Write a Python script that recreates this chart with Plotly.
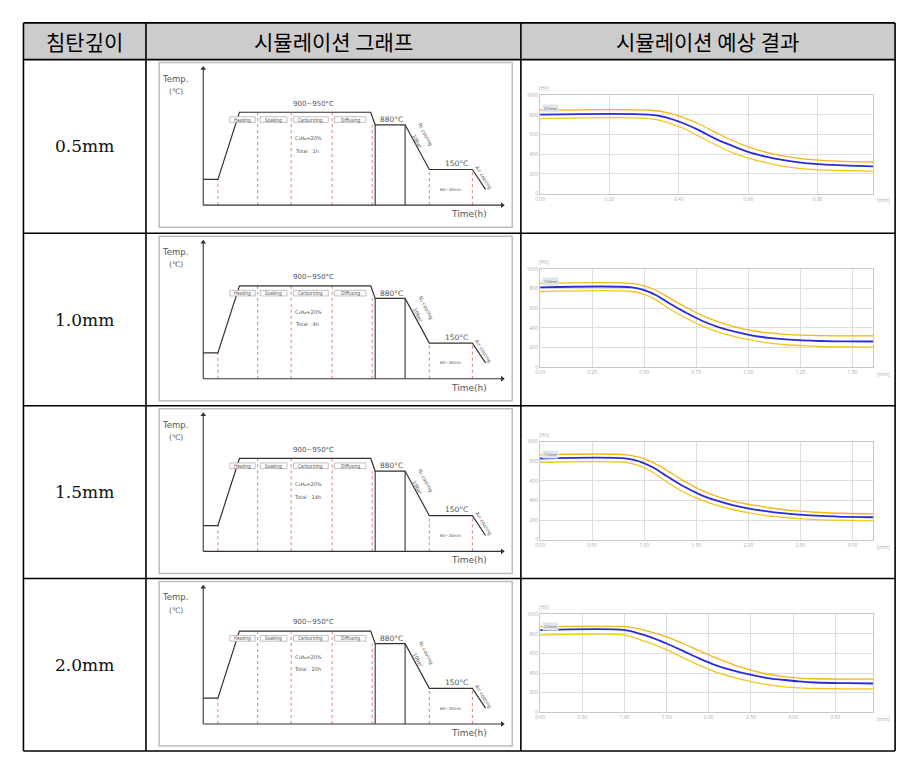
import plotly.graph_objects as go

W, H = 913, 759
PAGE_PAD = 8  # browser body margin around the plot div

headers = ['침탄깊이', '시뮬레이션 그래프', '시뮬레이션 예상 결과']
depths = ['0.5mm', '1.0mm', '1.5mm', '2.0mm']
total_times = ['1h', '4h', '14h', '20h']

# process schematic (not to scale: time 0-100, temperature 0-100)
prof_t = [0, 4.9, 12.1, 56.0, 57.5, 67.5, 75.6, 90.0, 94.4]
prof_T = [18.9, 18.9, 68.0, 68.0, 58.8, 58.8, 26.1, 26.1, 11.6]
step_t = [4.9, 18.2, 29.4, 43.1, 56.5, 75.6, 90.0]
step_T = [18.9, 68.0, 68.0, 68.0, 58.8, 26.1, 26.1]
stage_names = ['Heating', 'Soaking', 'Carburizing', 'Diffusing']
stage_t0 = [8.9, 19.1, 30.2, 43.9]
stage_t1 = [17.4, 28.0, 41.8, 54.4]

# simulation results: depth [mm] vs value
sim_xmax = [0.96, 1.6, 3.2, 3.95]
sim_dtick = [0.2, 0.25, 0.5, 0.5]
sim_x = [
    [0, 0.315, 0.363, 0.411, 0.459, 0.506, 0.554, 0.602, 0.650, 0.698, 0.746, 0.794, 0.842, 0.889, 0.96],
    [0, 0.44, 0.50, 0.56, 0.62, 0.70, 0.78, 0.86, 0.94, 1.02, 1.10, 1.18, 1.26, 1.34, 1.48, 1.6],
    [0, 0.833, 0.959, 1.087, 1.214, 1.373, 1.532, 1.691, 1.850, 2.008, 2.167, 2.326, 2.485, 2.644, 2.962, 3.2],
    [0, 1.008, 1.145, 1.302, 1.498, 1.695, 1.891, 2.087, 2.283, 2.479, 2.675, 2.871, 3.068, 3.264, 3.656, 3.95],
]
sim_mid = [
    [803, 803, 776, 718, 643, 557, 486, 421, 376, 342, 318, 301, 291, 284, 277],
    [812, 812, 785, 730, 650, 555, 470, 405, 358, 322, 298, 282, 272, 266, 262, 261],
    [827, 827, 796, 735, 650, 547, 462, 400, 352, 318, 291, 270, 256, 246, 232, 229],
    [838, 838, 810, 769, 701, 626, 547, 479, 427, 386, 352, 332, 315, 304, 297, 294],
]
sim_hi = [
    [848, 848, 827, 776, 708, 622, 540, 472, 421, 383, 359, 342, 332, 325, 321],
    [852, 852, 828, 780, 705, 610, 525, 458, 408, 372, 348, 333, 325, 321, 318, 318],
    [865, 865, 838, 786, 708, 605, 513, 444, 393, 359, 332, 308, 291, 280, 267, 263],
    [872, 872, 855, 821, 769, 701, 626, 554, 489, 434, 393, 366, 349, 342, 338, 338],
]
sim_lo = [
    [762, 762, 728, 667, 581, 496, 417, 359, 315, 280, 256, 243, 236, 232, 229],
    [770, 770, 740, 680, 595, 500, 418, 355, 308, 272, 245, 228, 218, 210, 205, 204],
    [786, 786, 752, 684, 591, 489, 410, 352, 308, 274, 246, 229, 215, 205, 198, 195],
    [786, 786, 752, 708, 639, 557, 479, 410, 359, 318, 284, 263, 250, 243, 239, 239],
]

# table geometry (pixels of the page)
col_x = [18.5, 141.7, 518.7, 895]
row_y = [20, 57, 232, 406, 580, 754]

FW, FH = W - PAGE_PAD, H - PAGE_PAD


def px(x):
    return (x - PAGE_PAD) / FW


def py(y):
    return 1 - (y - PAGE_PAD) / FH


fig = go.Figure()
shapes = []
annotations = []

# header background + grid lines
shapes.append(dict(type='rect', xref='paper', yref='paper', x0=px(col_x[0]), x1=px(col_x[-1]),
                   y0=py(row_y[0]), y1=py(row_y[1]), fillcolor='#cccccc', line=dict(width=0), layer='below'))
for yy in row_y:
    shapes.append(dict(type='line', xref='paper', yref='paper', x0=px(col_x[0]), x1=px(col_x[-1]),
                       y0=py(yy), y1=py(yy), line=dict(color='black', width=1.6)))
for xx in col_x:
    shapes.append(dict(type='line', xref='paper', yref='paper', x0=px(xx), x1=px(xx),
                       y0=py(row_y[0]), y1=py(row_y[-1]), line=dict(color='black', width=1.6)))

for j, h in enumerate(headers):
    annotations.append(dict(xref='paper', yref='paper', x=px((col_x[j] + col_x[j + 1]) / 2),
                            y=py((row_y[0] + row_y[1]) / 2), text=h, showarrow=False,
                            xanchor='center', yanchor='middle',
                            font=dict(family='Noto Sans CJK KR', size=21, color='black')))

layout_axes = {}
for i in range(4):
    top = row_y[i + 1]
    bot = row_y[i + 2]
    annotations.append(dict(xref='paper', yref='paper', x=px((col_x[0] + col_x[1]) / 2),
                            y=py((top + bot) / 2), text=depths[i], showarrow=False,
                            xanchor='center', yanchor='middle',
                            font=dict(family='DejaVu Serif', size=17, color='#111111')))

    # ---- schematic axis ----
    ka = 2 * i + 1
    xa, ya = f'x{ka}', f'y{ka}'
    ox, oy = 199.3, top + 146.7
    sx, sy = (500 - 199.3) / 100, 137.7 / 100
    bx0, bx1, by0, by1 = 155, 510, top + 3, top + 169
    layout_axes[f'xaxis{ka}'] = dict(domain=[px(bx0), px(bx1)], range=[(bx0 - ox) / sx, (bx1 - ox) / sx],
                                     visible=False, anchor=ya, fixedrange=True)
    layout_axes[f'yaxis{ka}'] = dict(domain=[py(by1), py(by0)], range=[(oy - by1) / sy, (oy - by0) / sy],
                                     visible=False, anchor=xa, fixedrange=True)
    shapes.append(dict(type='rect', xref='paper', yref='paper', x0=px(bx0), x1=px(bx1), y0=py(by1), y1=py(by0),
                       line=dict(color='#bdbdbd', width=1.5), fillcolor='white', layer='below'))

    # red dashed stage boundaries
    dx, dy = [], []
    for t, T in zip(step_t, step_T):
        dx += [t, t, None]
        dy += [0, T, None]
    fig.add_trace(go.Scatter(x=dx, y=dy, xaxis=xa, yaxis=ya, mode='lines',
                             line=dict(color='#e87878', width=1, dash='dot'), hoverinfo='skip'))
    # vertical edges of the 880 hold
    fig.add_trace(go.Scatter(x=[prof_t[4], prof_t[4], None, prof_t[5], prof_t[5]],
                             y=[0, prof_T[4], None, 0, prof_T[5]], xaxis=xa, yaxis=ya, mode='lines',
                             line=dict(color='#333333', width=1.1), hoverinfo='skip'))
    fig.add_trace(go.Scatter(x=prof_t, y=prof_T, xaxis=xa, yaxis=ya, mode='lines',
                             line=dict(color='#333333', width=1.2), hoverinfo='skip'))

    # axes with arrow heads
    fig.add_trace(go.Scatter(x=[0, 0, None, 0, 100], y=[100, 0, None, 0, 0], xaxis=xa, yaxis=ya,
                             mode='lines', line=dict(color='#333333', width=1.1), hoverinfo='skip'))
    fig.add_trace(go.Scatter(x=[0, 100], y=[100, 0], xaxis=xa, yaxis=ya, mode='markers',
                             marker=dict(symbol=['triangle-up', 'triangle-right'], size=5, color='#333333'),
                             hoverinfo='skip'))

    # stage boxes
    for name, t0, t1 in zip(stage_names, stage_t0, stage_t1):
        shapes.append(dict(type='rect', xref=xa, yref=ya, x0=t0, x1=t1, y0=60.6, y1=64.7,
                           fillcolor='white', line=dict(color='#b0b0b0', width=0.8)))
        annotations.append(dict(xref=xa, yref=ya, x=(t0 + t1) / 2, y=62.6, text=name, showarrow=False,
                                font=dict(family='Noto Sans', size=4.5, color='#555')))

    small = dict(family='DejaVu Sans', color='#555555')
    texts = [
        ('Temp.', -9.4, 92.7, 8.5, 0), ('(℃)', -9.1, 83.3, 7.5, 0),
        ('900~950°C', 36.8, 74.4, 7, 0), ('880°C', 62.9, 62.5, 7.5, 0),
        ('C₃H₈=20%', 35.2, 49.2, 5, 0),
        ('Total : ' + total_times[i], 34.7, 39.9, 5, 0),
        ('N₂ cooling', 74.3, 52.0, 5, 62), ('10bar', 71.8, 46.5, 5, 62),
        ('150°C', 84.6, 30.3, 7.5, 0), ('Air cooling', 93.6, 20.1, 5, 58),
        ('60~30min', 82.9, 11.6, 4, 0), ('Time(h)', 89.0, -6.5, 9, 0),
    ]
    for txt, tx, ty, fs, ang in texts:
        annotations.append(dict(xref=xa, yref=ya, x=tx, y=ty, text=txt, showarrow=False,
                                textangle=ang, font=dict(size=fs, **small)))

    # ---- simulation axis ----
    kb = 2 * i + 2
    xb, yb = f'x{kb}', f'y{kb}'
    layout_axes[f'xaxis{kb}'] = dict(domain=[px(538), px(873)], range=[0, sim_xmax[i]], dtick=sim_dtick[i],
                                     tickformat='.2f', showgrid=True, gridcolor='#dddddd', gridwidth=1,
                                     showline=True, linecolor='#c8c8c8', mirror=True, zeroline=False,
                                     ticks='', tickfont=dict(size=5, color='#aaaaaa'), anchor=yb,
                                     fixedrange=True)
    layout_axes[f'yaxis{kb}'] = dict(domain=[py(top + 135), py(top + 36)], range=[0, 1000], dtick=200,
                                     showgrid=True, gridcolor='#dddddd', gridwidth=1,
                                     showline=True, linecolor='#c8c8c8', mirror=True, zeroline=False,
                                     ticks='', tickfont=dict(size=5, color='#aaaaaa'), anchor=xb,
                                     fixedrange=True)
    fig.add_trace(go.Scatter(x=sim_x[i], y=sim_hi[i], xaxis=xb, yaxis=yb, mode='lines',
                             line=dict(color='#f5b41a', width=1.3, shape='spline'), hoverinfo='skip'))
    fig.add_trace(go.Scatter(x=sim_x[i], y=sim_lo[i], xaxis=xb, yaxis=yb, mode='lines',
                             line=dict(color='#f3c623', width=1.3, shape='spline'), hoverinfo='skip'))
    fig.add_trace(go.Scatter(x=sim_x[i], y=sim_mid[i], xaxis=xb, yaxis=yb, mode='lines',
                             line=dict(color='#2b2bd8', width=1.8, shape='spline'), hoverinfo='skip'))
    annotations.append(dict(xref=xb + ' domain', yref=yb + ' domain', x=0.005, y=0.87, text=depths[i],
                            showarrow=False, xanchor='left', yanchor='middle', bgcolor='#dfe6ea',
                            font=dict(size=4, color='#556655')))
    annotations.append(dict(xref=xb + ' domain', yref=yb + ' domain', x=-0.01, y=1.02, text='[HV]',
                            showarrow=False, xanchor='left', yanchor='bottom',
                            font=dict(size=5, color='#aaaaaa')))
    annotations.append(dict(xref=xb + ' domain', yref=yb + ' domain', x=1.005, y=-0.02, text='[mm]',
                            showarrow=False, xanchor='left', yanchor='top',
                            font=dict(size=5, color='#aaaaaa')))

fig.update_layout(
    width=FW, height=FH, margin=dict(l=0, r=0, t=0, b=0),
    paper_bgcolor='white', plot_bgcolor='white', showlegend=False,
    shapes=shapes, annotations=annotations, **layout_axes,
)

fig.write_html('out.html')
